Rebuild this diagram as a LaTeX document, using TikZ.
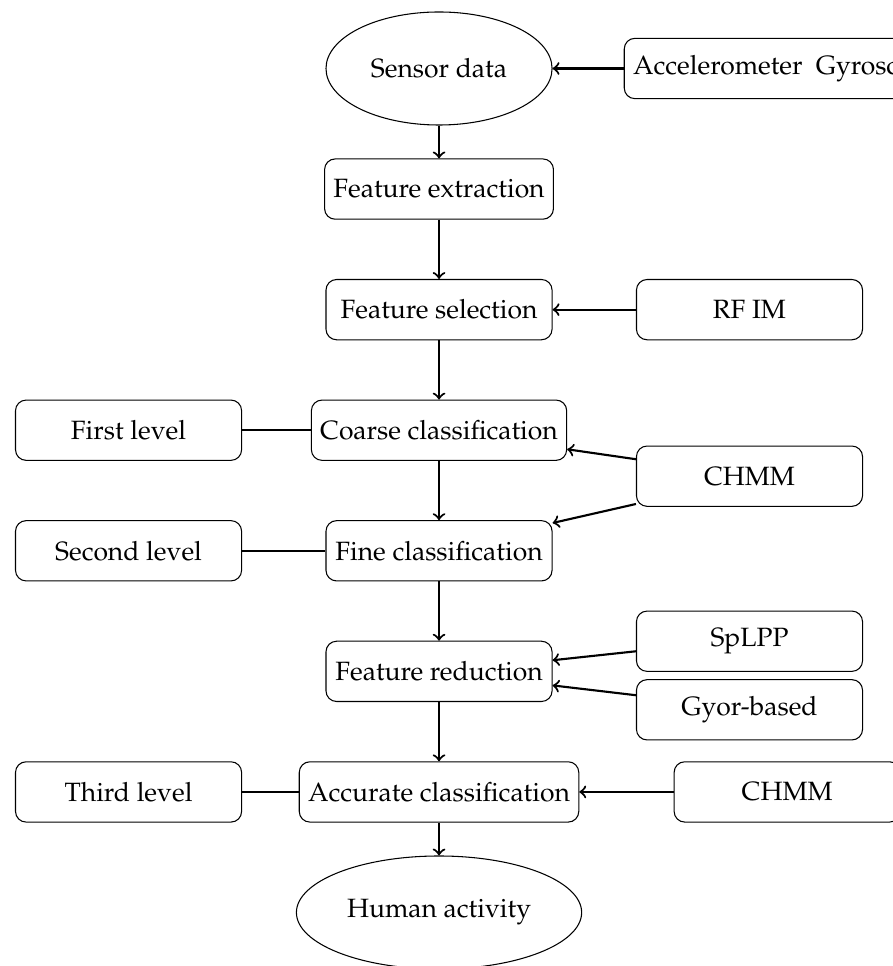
\documentclass[tikz,border=0pt]{standalone}
\usepackage[T1]{fontenc}
\usepackage{mathpazo}
\usetikzlibrary{positioning,shapes.geometric}

\begin{document}
\begin{tikzpicture}[
  node distance=1.6cm and 4.12cm, on grid,
  box/.style={draw, rounded corners, align=center, minimum width=3cm, minimum height=0.8cm},
  oval/.style={draw, ellipse, align=center, minimum width=3cm, minimum height=1.5cm},
  arrow/.style={->, thick},
  link/.style={thick}
]
\useasboundingbox (-5.826,0.909) rectangle (6.012,-11.91);
% main column
\node[oval] (sensor) {Sensor data};
\node[box, below=of sensor] (extract) {Feature extraction};
\node[box, below=of extract] (select) {Feature selection};
\node[box, below=of select] (coarse) {Coarse classification};
\node[box, below=of coarse] (fine) {Fine classification};
\node[box, below=of fine] (reduce) {Feature reduction};
\node[box, below=of reduce] (accurate) {Accurate classification};
\node[oval, below=of accurate] (activity) {Human activity};
% right column
\node[box, right=4.62cm of sensor] (sensors) {Accelerometer\ \ Gyroscope};
\node[box, right=of select] (rfim) {RF IM};
\node[box, below right=0.61cm and 4.12cm of coarse] (chmm) {CHMM};
\node[box, above right=0.4cm and 4.12cm of reduce] (splpp) {SpLPP};
\node[box, below right=0.51cm and 4.12cm of reduce] (gyor) {Gyor-based};
\node[box, right=4.62cm of accurate] (chmmb) {CHMM};
% left column
\node[box, left=of coarse] (first) {First level};
\node[box, left=of fine] (second) {Second level};
\node[box, left=of accurate] (third) {Third level};

\draw[arrow] (sensors) -- (sensor);
\draw[arrow] (sensor) -- (extract);
\draw[arrow] (extract) -- (select);
\draw[arrow] (rfim) -- (select);
\draw[arrow] (select) -- (coarse);
\draw[arrow] (coarse) -- (fine);
\draw[arrow] ([yshift=6.4pt]chmm.west) -- ([yshift=-7.2pt]coarse.east);
\draw[arrow] ([yshift=-10.5pt]chmm.west) -- ([yshift=10.5pt]fine.east);
\draw[arrow] (fine) -- (reduce);
\draw[arrow] ([yshift=-3.8pt]splpp.west) -- ([yshift=4.2pt]reduce.east);
\draw[arrow] ([yshift=5.5pt]gyor.west) -- ([yshift=-5.3pt]reduce.east);
\draw[arrow] (reduce) -- (accurate);
\draw[arrow] (chmmb) -- (accurate);
\draw[arrow] (accurate) -- (activity);
\draw[link] (first) -- (coarse);
\draw[link] (second) -- (fine);
\draw[link] (third) -- (accurate);
\end{tikzpicture}
\end{document}
